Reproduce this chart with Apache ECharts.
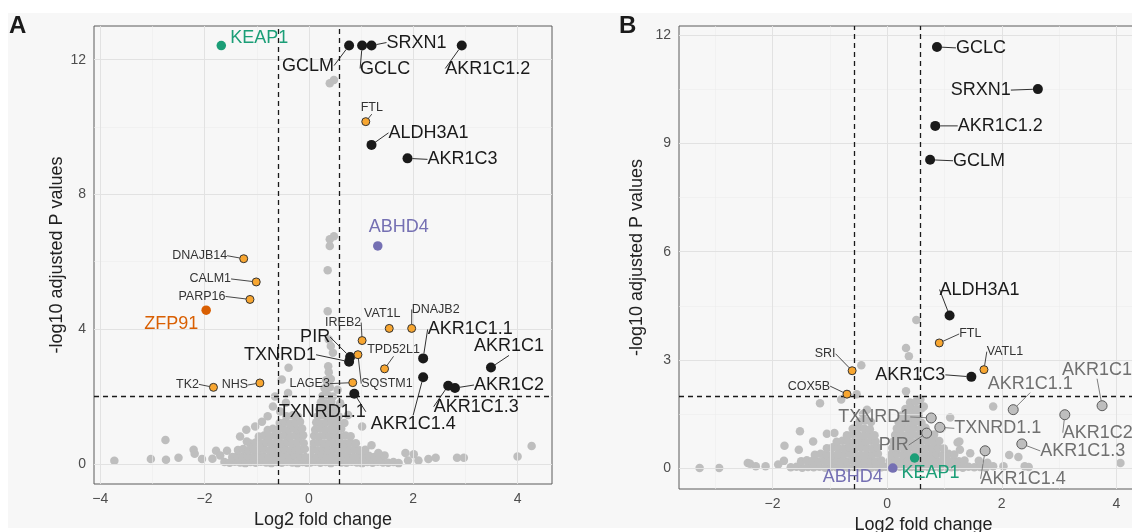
<!DOCTYPE html>
<html>
<head>
<meta charset="utf-8">
<script src="https://cdn.jsdelivr.net/npm/echarts@6/dist/echarts.min.js"></script>
<style>html,body{margin:0;padding:0;background:#fff}#c{width:1132px;height:532px}</style>
</head>
<body>
<div id="c"></div>
<script>
// ---------------- DATA ----------------
// Panel A : background (non-significant) proteins  [log2FC, -log10 padj]
const greyA = [
[-1.62,0.05],[-1.52,0.03],[-1.42,0.06],[-1.32,0.04],[-1.22,0.02],[-1.12,0.05],[-1.02,0.03],[-0.92,0.06],[-0.82,0.04],[-0.72,0.02],[-0.62,0.05],[-0.52,0.03],[-0.42,0.06],[-0.32,0.04],[-0.22,0.02],[-0.12,0.05],[-0.04,0.03],
[-1.47,0.2],[-1.37,0.24],[-1.27,0.21],[-1.17,0.23],[-1.07,0.2],[-0.97,0.24],[-0.87,0.22],[-0.77,0.2],[-0.67,0.24],[-0.57,0.21],[-0.47,0.23],[-0.37,0.2],[-0.27,0.24],[-0.17,0.22],[-0.07,0.2],
[-1.36,0.41],[-1.26,0.44],[-1.16,0.4],[-1.06,0.43],[-0.96,0.41],[-0.86,0.44],[-0.76,0.4],[-0.66,0.43],[-0.56,0.41],[-0.46,0.44],[-0.36,0.4],[-0.26,0.43],[-0.17,0.41],[-0.08,0.44],
[-1.12,0.6],[-1.02,0.63],[-0.92,0.61],[-0.82,0.64],[-0.72,0.6],[-0.62,0.63],[-0.52,0.61],[-0.42,0.64],[-0.32,0.6],[-0.22,0.63],[-0.1,0.61],
[-0.96,0.81],[-0.86,0.84],[-0.76,0.8],[-0.66,0.83],[-0.56,0.81],[-0.46,0.84],[-0.36,0.8],[-0.26,0.83],[-0.18,0.81],[-0.11,0.85],
[-0.79,1.0],[-0.69,1.04],[-0.59,1.01],[-0.49,1.03],[-0.39,1.0],[-0.29,1.04],[-0.21,1.02],[-0.13,1.05],
[-0.56,1.21],[-0.46,1.24],[-0.36,1.2],[-0.26,1.23],[-0.17,1.25],
[-0.43,1.41],[-0.31,1.44],[-0.21,1.4],
[-3.73,0.09],[-3.03,0.14],[-2.75,0.71],[-2.74,0.12],[-2.5,0.18],[-2.21,0.42],[-2.19,0.3],[-2.05,0.14],[-1.85,0.15],[-1.78,0.39],[-1.7,0.25],[-1.57,0.39],
[-1.32,0.81],[-1.19,0.66],[-1.2,1.01],[-1.03,1.11],[-0.9,1.25],[-0.79,1.41],[-0.69,1.7],[-0.65,2.0],[-0.55,1.55],[-0.52,2.5],[-0.44,1.81],[-0.4,2.1],[-0.39,2.85],
[0.03,0.04],[0.12,0.06],[0.22,0.03],[0.32,0.05],[0.42,0.02],[0.52,0.06],[0.62,0.04],[0.72,0.03],[0.82,0.06],[0.92,0.04],[1.02,0.02],[1.12,0.05],[1.22,0.03],[1.32,0.06],[1.42,0.04],[1.52,0.03],[1.62,0.05],[1.72,0.02],
[0.05,0.22],[0.15,0.2],[0.25,0.24],[0.35,0.21],[0.45,0.23],[0.55,0.2],[0.65,0.24],[0.75,0.22],[0.85,0.2],[0.95,0.23],[1.05,0.21],[1.15,0.24],[1.25,0.2],[1.36,0.22],
[0.07,0.43],[0.17,0.4],[0.27,0.44],[0.37,0.41],[0.47,0.43],[0.57,0.4],[0.67,0.44],[0.77,0.41],[0.87,0.43],[0.97,0.4],[1.08,0.42],
[0.09,0.61],[0.19,0.64],[0.29,0.6],[0.39,0.63],[0.49,0.61],[0.59,0.64],[0.69,0.6],[0.79,0.63],[0.9,0.61],
[0.1,0.83],[0.2,0.8],[0.3,0.84],[0.4,0.81],[0.5,0.83],[0.6,0.8],[0.7,0.84],[0.8,0.82],
[0.12,1.01],[0.22,1.04],[0.32,1.0],[0.42,1.03],[0.52,1.01],[0.62,1.04],
[0.14,1.23],[0.24,1.2],[0.34,1.24],[0.44,1.21],[0.54,1.23],
[0.17,1.41],[0.27,1.44],[0.37,1.4],[0.47,1.43],[0.57,1.41],
[0.2,1.61],[0.3,1.64],[0.4,1.6],[0.5,1.63],
[0.23,1.83],[0.33,1.8],[0.43,1.84],
[0.26,2.01],[0.36,2.04],[0.46,2.0],
[0.3,2.24],[0.4,2.27],[0.33,2.48],[0.42,2.52],[0.38,2.72],[0.37,2.9],
[0.38,3.69],[0.46,3.3],[0.42,3.5],[0.68,1.21],[1.02,1.11],[0.75,1.45],[0.6,1.8],[0.55,2.2],[1.2,0.55],[1.45,0.25],
[1.33,0.32],[1.85,0.32],[1.9,0.1],[2.01,0.28],[2.1,0.1],[2.29,0.14],[2.43,0.18],[2.84,0.18],[2.97,0.18],[4.0,0.22],[4.27,0.53],
[0.36,4.53],[0.36,5.75],[0.4,6.47],[0.4,6.67],[0.48,6.76],[0.4,11.3],[0.48,11.4]
];
// Panel A : labelled proteins
const genesA  = ['KEAP1','GCLM','GCLC','SRXN1','AKR1C1.2','FTL','ALDH3A1','AKR1C3','ABHD4','DNAJB14','CALM1','PARP16','ZFP91','VAT1L','DNAJB2','IREB2','PIR','TXNRD1','SQSTM1','TPD52L1','AKR1C1.1','AKR1C1','LAGE3','TK2','NHS','AKR1C1.4','AKR1C1.3','AKR1C2','TXNRD1.1'];
const log2fcA = [-1.68,0.77,1.02,1.20,2.93,1.09,1.20,1.89,1.32,-1.25,-1.01,-1.13,-1.97,1.54,1.97,1.02,0.79,0.77,0.94,1.45,2.19,3.49,0.84,-1.83,-0.94,2.19,2.67,2.80,0.87];
const padjA   = [12.42,12.42,12.42,12.42,12.42,10.16,9.47,9.07,6.47,6.09,5.40,4.88,4.56,4.02,4.02,3.66,3.17,3.03,3.24,2.82,3.13,2.86,2.41,2.27,2.40,2.57,2.32,2.25,2.08];
const groupA  = ['keap1','black','black','black','black','orange','black','black','abhd4','orange','orange','orange','zfp91','orange','orange','orange','black','black','orange','orange','black','black','orange','orange','orange','black','black','black','black'];

// Panel B : background proteins
const greyB = [
[-1.68,0.02],[-1.58,0.04],[-1.48,0.01],[-1.38,0.03],[-1.28,0.02],[-1.18,0.04],[-1.08,0.01],[-0.98,0.03],[-0.88,0.02],[-0.78,0.04],[-0.68,0.01],[-0.58,0.03],[-0.48,0.02],[-0.38,0.04],[-0.28,0.01],[-0.18,0.03],[-0.1,0.02],[-0.03,0.04],
[-1.5,0.19],[-1.4,0.22],[-1.3,0.2],[-1.2,0.18],[-1.1,0.21],[-1.0,0.19],[-0.9,0.22],[-0.8,0.2],[-0.7,0.18],[-0.6,0.21],[-0.5,0.19],[-0.4,0.22],[-0.3,0.2],[-0.2,0.18],[-0.1,0.21],
[-1.26,0.37],[-1.16,0.4],[-1.06,0.38],[-0.96,0.36],[-0.86,0.39],[-0.76,0.37],[-0.66,0.4],[-0.56,0.38],[-0.46,0.36],[-0.36,0.39],[-0.26,0.37],[-0.16,0.4],
[-1.05,0.55],[-0.95,0.58],[-0.85,0.56],[-0.75,0.54],[-0.65,0.57],[-0.55,0.55],[-0.45,0.58],[-0.35,0.56],[-0.25,0.54],[-0.17,0.57],
[-0.88,0.73],[-0.78,0.76],[-0.68,0.74],[-0.58,0.72],[-0.48,0.75],[-0.38,0.73],[-0.28,0.76],[-0.2,0.74],
[-0.7,0.91],[-0.6,0.94],[-0.5,0.92],[-0.4,0.9],[-0.3,0.93],[-0.22,0.91],
[-0.6,1.09],[-0.5,1.12],[-0.4,1.1],[-0.3,1.08],
[-0.48,1.29],[-0.38,1.32],[-0.28,1.28],[-0.42,1.5],[-0.35,1.62],
[-3.27,0.0],[-2.93,0.0],[-2.43,0.14],[-2.39,0.12],[-2.29,0.05],[-2.12,0.05],[-1.9,0.1],[-1.8,0.2],[-1.79,0.62],[-1.54,0.51],[-1.52,1.02],
[-1.29,0.74],[-1.17,1.8],[-1.05,0.95],[-0.92,0.97],[-0.8,1.9],[-0.53,2.05],[-0.45,2.85],
[0.03,0.03],[0.12,0.01],[0.22,0.04],[0.32,0.02],[0.42,0.03],[0.52,0.01],[0.62,0.04],[0.72,0.02],[0.82,0.03],[0.92,0.01],[1.02,0.04],[1.12,0.02],[1.22,0.03],[1.32,0.01],[1.42,0.04],[1.52,0.02],[1.62,0.03],[1.72,0.01],
[0.05,0.2],[0.15,0.22],[0.25,0.19],[0.35,0.21],[0.45,0.18],[0.55,0.22],[0.65,0.2],[0.75,0.19],[0.85,0.21],[0.95,0.18],[1.05,0.22],[1.15,0.2],[1.25,0.19],[1.35,0.21],
[0.07,0.38],[0.17,0.4],[0.27,0.37],[0.37,0.39],[0.47,0.36],[0.57,0.4],[0.67,0.38],[0.77,0.37],[0.87,0.39],[0.97,0.36],[1.07,0.4],[1.17,0.38],
[0.09,0.56],[0.19,0.58],[0.29,0.55],[0.39,0.57],[0.49,0.54],[0.59,0.58],[0.69,0.56],[0.79,0.55],[0.89,0.57],[0.99,0.54],
[0.11,0.74],[0.21,0.76],[0.31,0.73],[0.41,0.75],[0.51,0.72],[0.61,0.76],[0.71,0.74],[0.81,0.73],[0.91,0.75],
[0.14,0.92],[0.24,0.94],[0.34,0.91],[0.44,0.93],[0.54,0.9],[0.64,0.94],[0.74,0.92],
[0.17,1.1],[0.27,1.12],[0.37,1.09],[0.47,1.11],[0.57,1.08],[0.67,1.12],
[0.2,1.28],[0.3,1.3],[0.4,1.27],[0.5,1.29],[0.6,1.26],
[0.25,1.46],[0.35,1.48],[0.45,1.45],[0.55,1.47],
[0.32,1.64],[0.42,1.66],[0.52,1.63],[0.6,1.65],
[0.4,1.82],[0.5,1.84],[0.58,1.9],
[0.33,2.13],[0.64,1.71],[0.95,1.1],[1.1,1.4],[0.82,0.93],[1.23,0.71],[1.26,0.74],[1.27,0.51],[1.45,0.41],[1.6,0.2],[1.75,0.15],
[1.85,1.71],[2.13,0.36],[2.29,0.31],[1.85,0.05],[2.03,0.05],[2.4,0.05],[2.47,0.03],[4.07,0.14],
[0.33,3.33],[0.38,3.1],[0.51,4.11]
];
// Panel B : labelled proteins
const genesB  = ['GCLC','SRXN1','AKR1C1.2','GCLM','ALDH3A1','FTL','SRI','VATL1','AKR1C3','COX5B','AKR1C1.1','AKR1C1','TXNRD1','TXNRD1.1','PIR','AKR1C2','AKR1C1.3','AKR1C1.4','KEAP1','ABHD4'];
const log2fcB = [0.87,2.63,0.84,0.75,1.09,0.91,-0.61,1.69,1.47,-0.70,2.20,3.75,0.77,0.92,0.69,3.10,2.35,1.71,0.48,0.10];
const padjB   = [11.68,10.51,9.49,8.55,4.23,3.47,2.70,2.73,2.53,2.05,1.62,1.73,1.39,1.13,0.97,1.48,0.67,0.48,0.28,0.00];
const groupB  = ['black','black','black','black','black','orange','orange','orange','black','orange','greyOut','greyOut','greyOut','greyOut','greyOut','greyOut','greyOut','greyOut','keap1','abhd4'];

// Axis ticks / thresholds
const xTicksA = [-4,-2,0,2,4], xMinorA = [-3,-1,1,3];
const yTicksA = [0,4,8,12],    yMinorA = [2,6,10];
const xTicksB = [-2,0,2,4],    xMinorB = [-3,-1,1,3];
const yTicksB = [0,3,6,9,12],  yMinorB = [1.5,4.5,7.5,10.5];
const fcCut = [-0.585, 0.585];
const pCut = 2;

// ---------------- STYLES (label offsets in px, not data) ----------------
const FONT = '"Liberation Sans", Arial, Helvetica, sans-serif';
const styles = {
  black:   {fill:'#1a1a1a', border:'#1a1a1a', bw:0, size:10, text:'#1a1a1a', fs:18, line:'#1a1a1a'},
  orange:  {fill:'#F8A630', border:'#333333', bw:1, size:8, text:'#333333', fs:12.5, line:'#333333'},
  keap1:   {fill:'#1B9E77', border:'#1B9E77', bw:0, size:9.5, text:'#1B9E77', fs:18, line:'#1B9E77'},
  abhd4:   {fill:'#7570B3', border:'#7570B3', bw:0, size:9.5, text:'#7570B3', fs:18, line:'#7570B3'},
  zfp91:   {fill:'#D95F02', border:'#D95F02', bw:0, size:9.5, text:'#D95F02', fs:18, line:'#D95F02'},
  greyOut: {fill:'#bebebe', border:'#5a5a5a', bw:1, size:10, text:'#707070', fs:18, line:'#707070'}
};
const offA = {
  'KEAP1':[38,-8,0],'GCLM':[-41,20,1],'GCLC':[23,23,1],'SRXN1':[45,-3,1],'AKR1C1.2':[26,23,1],
  'FTL':[6,-14,1],'ALDH3A1':[57,-12,1],'AKR1C3':[55,1,1],'ABHD4':[21,-19,0],'DNAJB14':[-44,-3,1],
  'CALM1':[-46,-3,1],'PARP16':[-48,-3,1],'ZFP91':[-35,14,0],'VAT1L':[-7,-15,0],'DNAJB2':[24,-19,1],
  'IREB2':[-19,-18,1],'PIR':[-35,-20,1],'TXNRD1':[-69,-7,1],'SQSTM1':[29,29,1],'TPD52L1':[9,-19,1],
  'AKR1C1.1':[47,-29,1],'AKR1C1':[18,-21,1],'LAGE3':[-43,1,1],'TK2':[-26,-3,1],'NHS':[-25,2,1],
  'AKR1C1.4':[-10,47,1],'AKR1C1.3':[28,21,1],'AKR1C2':[54,-3,1],'TXNRD1.1':[-32,18,1]
};
const offB = {
  'GCLC':[44,1,1],'SRXN1':[-57,1,1],'AKR1C1.2':[65,0,1],'GCLM':[49,1,1],'ALDH3A1':[30,-26,1],
  'FTL':[31,-9,1],'SRI':[-27,-17,1],'VATL1':[21,-18,1],'AKR1C3':[-61,-2,1],'COX5B':[-38,-8,1],
  'AKR1C1.1':[17,-26,1],'AKR1C1':[-5,-36,1],'TXNRD1':[-57,-1,1],'TXNRD1.1':[58,1,1],'PIR':[-33,12,1],
  'AKR1C2':[33,18,1],'AKR1C1.3':[61,7,1],'AKR1C1.4':[38,28,1],'KEAP1':[16,15,0],'ABHD4':[-40,9,0]
};

// ---------------- BUILD ----------------
function labelled(genes, xs, ys, groups, offs) {
  return genes.map((g, i) => {
    const s = styles[groups[i]];
    return {
      name: g, value: [xs[i], ys[i]], symbolSize: s.size,
      itemStyle: {color: s.fill, borderColor: s.border, borderWidth: s.bw, opacity: 1},
      label: {show: true, formatter: g, color: s.text, fontSize: s.fs},
      labelLine: {show: !!offs[g][2], lineStyle: {color: s.line, width: 0.9, opacity: 1}}
    };
  });
}
const minus = v => (v < 0 ? '\u2212' + Math.abs(v) : String(v));
const MAJ = {color:'#e2e2e2', width:1, type:'solid'};
const MIN = {color:'#ececec', width:0.6, type:'solid'};
function gridLines(idx, xs, xm, ys, ym) {
  const d = [];
  xm.forEach(v => d.push({xAxis: v, lineStyle: MIN}));
  ym.forEach(v => d.push({yAxis: v, lineStyle: MIN}));
  xs.forEach(v => d.push({xAxis: v, lineStyle: MAJ}));
  ys.forEach(v => d.push({yAxis: v, lineStyle: MAJ}));
  return {type:'scatter', xAxisIndex:idx, yAxisIndex:idx, data:[], z:1, silent:true,
    markLine:{silent:true, symbol:'none', label:{show:false}, animation:false, data:d}};
}
function dashLines(idx) {
  const st = {color:'#1a1a1a', width:1.3, type:[5,4], opacity:1};
  return {type:'scatter', xAxisIndex:idx, yAxisIndex:idx, data:[], z:4, silent:true,
    markLine:{silent:true, symbol:'none', label:{show:false}, animation:false,
      data:[{xAxis:fcCut[0], lineStyle:st},{xAxis:fcCut[1], lineStyle:st},{yAxis:pCut, lineStyle:st}]}};
}
function greySeries(idx, data) {
  return {type:'scatter', xAxisIndex:idx, yAxisIndex:idx, data:data, symbolSize:8.5, z:3, silent:true,
    itemStyle:{color:'#bebebe', opacity:1}};
}
function labSeries(idx, genes, xs, ys, groups, offs) {
  return {type:'scatter', xAxisIndex:idx, yAxisIndex:idx, z:6, silent:true,
    data: labelled(genes, xs, ys, groups, offs),
    itemStyle:{opacity:1},
    label:{show:true, position:'inside', align:'center', verticalAlign:'middle', fontFamily:FONT},
    labelLine:{show:true, lineStyle:{width:0.9}},
    labelLayout: function (p) {
      const o = offs[genes[p.dataIndex]];
      return {dx:o[0], dy:o[1]};
    }
  };
}
function xAxisCfg(idx, min, max, ticks, gap) {
  return {gridIndex:idx, type:'value', min:min, max:max,
    splitLine:{show:false}, axisLine:{show:false},
    axisTick:{show:true, customValues:ticks, length:5, inside:false, lineStyle:{color:'#333', width:1}},
    axisLabel:{customValues:ticks, formatter:minus, fontSize:14, color:'#4d4d4d', margin:8, fontFamily:FONT},
    name:'Log2 fold change', nameLocation:'middle', nameGap:gap,
    nameTextStyle:{fontSize:18, color:'#222', fontFamily:FONT}};
}
function yAxisCfg(idx, min, max, ticks, gap) {
  return {gridIndex:idx, type:'value', min:min, max:max,
    splitLine:{show:false}, axisLine:{show:false},
    axisTick:{show:true, customValues:ticks, length:5, lineStyle:{color:'#333', width:1}},
    axisLabel:{customValues:ticks, formatter:minus, fontSize:14, color:'#4d4d4d', margin:8, fontFamily:FONT},
    name:'-log10 adjusted P values', nameLocation:'middle', nameGap:gap,
    nameTextStyle:{fontSize:18, color:'#222', fontFamily:FONT}};
}

const chart = echarts.init(document.getElementById('c'), null, {renderer:'canvas'});
chart.setOption({
  animation:false,
  backgroundColor:'#ffffff',
  textStyle:{fontFamily:FONT},
  graphic:[
    {type:'rect', left:8, top:13, shape:{width:1124, height:515}, style:{fill:'#f7f7f7'}, z:-100, silent:true},
    {type:'text', left:9, top:14, style:{text:'A', font:'bold 24px ' + FONT, fill:'#1a1a1a'}, z:100},
    {type:'text', left:619, top:14, style:{text:'B', font:'bold 24px ' + FONT, fill:'#1a1a1a'}, z:100}
  ],
  grid:[
    {left:94, top:26, width:458, height:458, show:true, backgroundColor:'transparent', borderColor:'#5a5a5a', borderWidth:1, outerBoundsMode:'none', containLabel:false},
    {left:679, top:26, width:489, height:463, show:true, backgroundColor:'transparent', borderColor:'#5a5a5a', borderWidth:1, outerBoundsMode:'none', containLabel:false}
  ],
  xAxis:[ xAxisCfg(0, -4.12, 4.66, xTicksA, 26), xAxisCfg(1, -3.63, 4.9, xTicksB, 26) ],
  yAxis:[ yAxisCfg(0, -0.6, 13.0, yTicksA, 27), yAxisCfg(1, -0.58, 12.26, yTicksB, 33) ],
  series:[
    gridLines(0, xTicksA, xMinorA, yTicksA, yMinorA),
    gridLines(1, xTicksB, xMinorB, yTicksB, yMinorB),
    greySeries(0, greyA),
    greySeries(1, greyB),
    dashLines(0),
    dashLines(1),
    labSeries(0, genesA, log2fcA, padjA, groupA, offA),
    labSeries(1, genesB, log2fcB, padjB, groupB, offB)
  ]
});
</script>
</body>
</html>
